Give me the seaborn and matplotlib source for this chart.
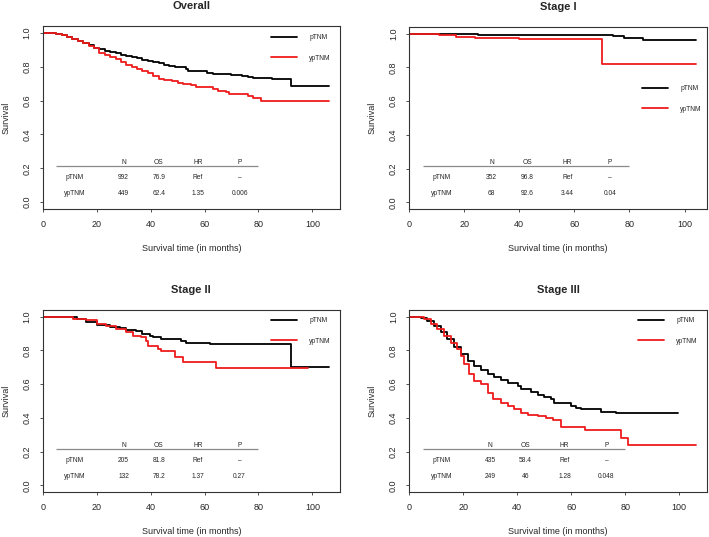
import numpy as np
import pandas as pd
import matplotlib
matplotlib.use("Agg")
import matplotlib.pyplot as plt
from matplotlib.lines import Line2D
import seaborn as sns

# ---- survival curves (time in months, survival) ----
overall_p_time = [0, 3, 5, 7, 9, 11, 13, 15, 17, 19, 21, 23, 25, 27, 29, 31, 33, 35, 37, 39, 41, 43, 45,
                  47, 49, 51, 53, 54, 57, 59, 61, 63, 65, 68, 70, 72, 74, 76, 78, 82, 85, 92, 106]
overall_p_surv = [1.0, 1.0, 0.995, 0.985, 0.975, 0.965, 0.952, 0.94, 0.927, 0.913, 0.902, 0.893, 0.886,
                  0.878, 0.870, 0.862, 0.855, 0.849, 0.841, 0.835, 0.827, 0.82, 0.812, 0.806, 0.800, 0.796,
                  0.788, 0.776, 0.776, 0.772, 0.765, 0.758, 0.755, 0.755, 0.751, 0.748, 0.742, 0.737, 0.733,
                  0.731, 0.725, 0.683, 0.683]
overall_y_time = [0, 3, 5, 7, 9, 11, 13, 15, 17, 19, 21, 23, 25, 27, 29, 31, 33, 35, 37, 39, 41, 43, 45,
                  48, 50, 52, 55, 57, 60, 63, 65, 68, 69, 74, 76, 78, 81, 106]
overall_y_surv = [1.0, 1.0, 0.995, 0.985, 0.973, 0.962, 0.95, 0.937, 0.923, 0.908, 0.882, 0.868, 0.855,
                  0.843, 0.83, 0.812, 0.797, 0.788, 0.776, 0.762, 0.745, 0.728, 0.72, 0.716, 0.706, 0.698,
                  0.690, 0.680, 0.678, 0.668, 0.655, 0.652, 0.638, 0.636, 0.625, 0.614, 0.595, 0.595]

stage1_p_time = [0, 5, 15, 25, 35, 45, 74, 78, 85, 104]
stage1_p_surv = [1.0, 0.998, 0.996, 0.993, 0.991, 0.99, 0.985, 0.976, 0.964, 0.964]
stage1_y_time = [0, 11, 17, 24, 40, 70, 104]
stage1_y_surv = [1.0, 0.99, 0.983, 0.977, 0.968, 0.818, 0.818]

stage2_p_time = [0, 10, 12.6, 16, 20, 25, 28.5, 31, 34.7, 37, 39.7, 41, 44, 51.4, 53, 62, 92, 106]
stage2_p_surv = [1.0, 0.996, 0.986, 0.966, 0.952, 0.942, 0.933, 0.923, 0.913, 0.897, 0.887, 0.877,
                 0.867, 0.857, 0.847, 0.837, 0.702, 0.702]
stage2_y_time = [0, 11.3, 16, 20, 23.6, 27, 31, 33.5, 36.6, 38.4, 39, 42.7, 44, 48.9, 52, 64.3, 98.2]
stage2_y_surv = [1.0, 0.986, 0.982, 0.956, 0.946, 0.927, 0.907, 0.887, 0.877, 0.857, 0.827, 0.808,
                 0.794, 0.762, 0.732, 0.698, 0.698]

stage3_p_time = [0, 2.5, 4.3, 6.8, 9.3, 11.8, 14.2, 16.7, 19.2, 21.7, 24.1, 26.6, 29.1, 31.6, 34, 36.5,
                 40.2, 41.5, 45.2, 47.6, 50.1, 52.6, 53.8, 57.5, 60, 61.9, 63.7, 71.2, 76.7, 99.6]
stage3_p_surv = [1.0, 1.0, 0.992, 0.976, 0.946, 0.907, 0.867, 0.821, 0.778, 0.738, 0.708, 0.684, 0.663,
                 0.643, 0.625, 0.605, 0.589, 0.569, 0.556, 0.536, 0.526, 0.51, 0.49, 0.486, 0.47, 0.456,
                 0.45, 0.437, 0.427, 0.427]
stage3_y_time = [0, 4.3, 5.6, 8, 10.5, 13, 15.5, 17.9, 19.2, 20.4, 22.3, 24.1, 26.6, 29.1, 30.9, 34,
                 36.5, 39, 41.5, 43.9, 47.6, 50.7, 53.2, 56.3, 65, 78.6, 81, 106]
stage3_y_surv = [1.0, 1.0, 0.986, 0.956, 0.93, 0.887, 0.847, 0.808, 0.768, 0.718, 0.663, 0.619, 0.599,
                 0.55, 0.51, 0.49, 0.47, 0.45, 0.431, 0.417, 0.411, 0.397, 0.385, 0.347, 0.325, 0.282,
                 0.238, 0.238]

# ---- summary tables ----
table_header = ["N", "OS", "HR", "P"]
groups = ["pTNM", "ypTNM"]
overall_stats = [["992", "76.9", "Ref", "\u2013"], ["449", "62.4", "1.35", "0.006"]]
stage1_stats = [["352", "96.8", "Ref", "\u2013"], ["68", "92.6", "3.44", "0.04"]]
stage2_stats = [["205", "81.8", "Ref", "\u2013"], ["132", "78.2", "1.37", "0.27"]]
stage3_stats = [["435", "58.4", "Ref", "\u2013"], ["249", "46", "1.28", "0.048"]]

palette = {"pTNM": "black", "ypTNM": "#ee1b1b"}

sns.set_theme(style="white")
plt.rcParams["font.family"] = ["Liberation Sans", "DejaVu Sans"]

fig = plt.figure(figsize=(7.09, 5.37), dpi=100)

W, H = 709.0, 537.0
boxes = [(42.7, 26, 340, 209), (409, 27, 707, 209), (42.7, 310, 340, 492), (409, 310, 707, 492)]


def make_ax(b):
    x0, y0, x1, y1 = b
    return fig.add_axes([x0 / W, 1 - y1 / H, (x1 - x0) / W, (y1 - y0) / H])


def draw_panel(ax, title, p_t, p_s, y_t, y_s, stats, leg_xy):
    df = pd.concat([pd.DataFrame({"time": p_t, "surv": p_s, "group": "pTNM"}),
                    pd.DataFrame({"time": y_t, "surv": y_s, "group": "ypTNM"})], ignore_index=True)
    sns.lineplot(data=df, x="time", y="surv", hue="group", palette=palette, estimator=None,
                 sort=False, drawstyle="steps-post", lw=1.3, legend=False, ax=ax)
    ax.set_xlim(0, 1.04 * df["time"].max())
    ax.set_ylim(-0.04, 1.04)
    ax.set_xticks(np.arange(0, 101, 20))
    ax.set_yticks(np.arange(0, 1.01, 0.2))
    ax.set_yticklabels([f"{v:.1f}" for v in np.arange(0, 1.01, 0.2)], rotation=90, va="center")
    ax.tick_params(axis="both", direction="out", length=2.5, width=0.6, color="#333333",
                   labelsize=6.5, pad=5.5, left=True, bottom=True)
    for sp in ax.spines.values():
        sp.set_color("#333333")
        sp.set_linewidth(0.8)
    ax.set_xlabel("Survival time (in months)", fontsize=6.5, labelpad=11)
    ax.set_ylabel("Survival", fontsize=6.5, labelpad=9)
    ax.set_title(title, fontsize=8, fontweight="bold", pad=12)

    # summary table inside the plot
    col_x = [30, 43, 57.5, 73]
    ax.hlines(0.215, 5, 80, color="#8a8a8a", lw=0.9)
    for cx, h in zip(col_x, table_header):
        ax.text(cx, 0.237, h, fontsize=4.8, ha="center", va="center")
    for ry, g, row in zip([0.144, 0.053], groups, stats):
        ax.text(12, ry, g, fontsize=4.8, ha="center", va="center")
        for cx, v in zip(col_x, row):
            ax.text(cx, ry, v, fontsize=4.8, ha="center", va="center")

    handles = [Line2D([], [], color=palette[g], lw=1.3) for g in groups]
    ax.legend(handles, groups, loc="upper left", bbox_to_anchor=leg_xy, frameon=False,
              fontsize=4.8, handlelength=3.9, handletextpad=1.85, labelspacing=2.0,
              borderpad=0, borderaxespad=0)


panels = [
    ("Overall", overall_p_time, overall_p_surv, overall_y_time, overall_y_surv, overall_stats, (0.768, 0.955)),
    ("Stage I", stage1_p_time, stage1_p_surv, stage1_y_time, stage1_y_surv, stage1_stats, (0.781, 0.68)),
    ("Stage II", stage2_p_time, stage2_p_surv, stage2_y_time, stage2_y_surv, stage2_stats, (0.768, 0.96)),
    ("Stage III", stage3_p_time, stage3_p_surv, stage3_y_time, stage3_y_surv, stage3_stats, (0.768, 0.96)),
]

for b, (title, pt, ps, yt, ys, st, lxy) in zip(boxes, panels):
    ax = make_ax(b)
    draw_panel(ax, title, pt, ps, yt, ys, st, lxy)

fig.savefig("out.png", dpi=100, facecolor="white")
